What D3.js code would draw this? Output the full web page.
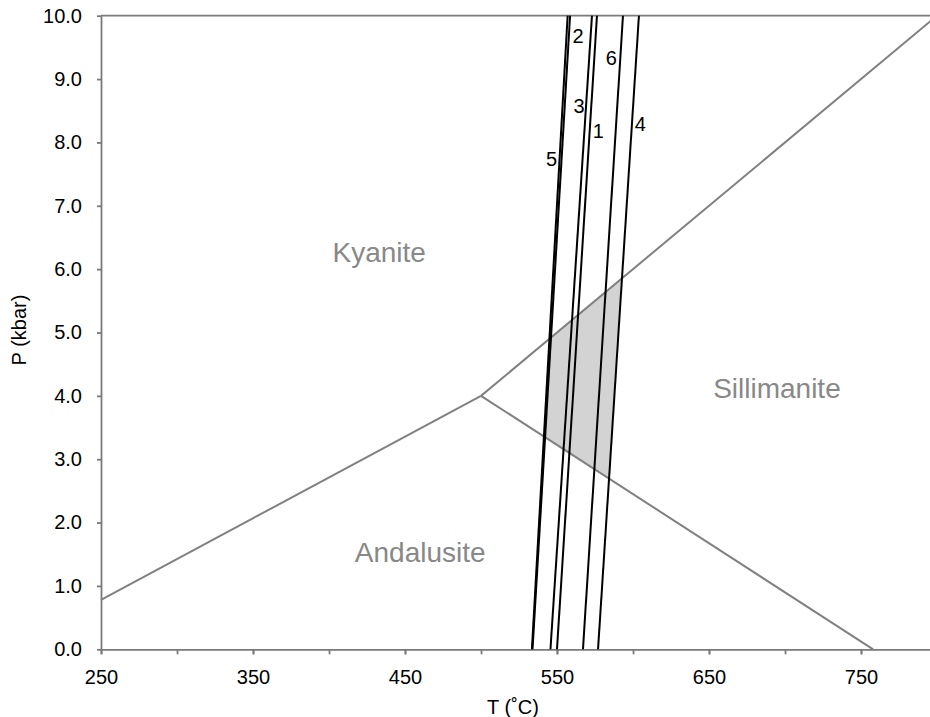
<!DOCTYPE html>
<html>
<head>
<meta charset="utf-8">
<script src="https://cdn.jsdelivr.net/npm/d3@7"></script>
<style>
  body { margin: 0; background: #fff; }
  svg { display: block; font-family: "Liberation Sans", Arial, Helvetica, sans-serif; }
</style>
</head>
<body>
<svg width="930" height="717"></svg>
<script>
// phase boundaries (T in °C, P in kbar)
const kyAnd = [[250, 0.78], [500, 4.0]];
const kySil = [[500, 4.0], [800, 10.0]];
const andSil = [[500, 4.0], [758, 0.0]];

// isograd lines: name, T at 0 kbar, T at 10 kbar
const isoNames = ["5", "2", "3", "1", "6", "4"];
const isoT0 = [533.5, 533.9, 545.7, 550.0, 567.1, 577.0];
const isoT10 = [557.0, 558.6, 573.0, 576.3, 593.4, 603.9];

// label positions for the numbers
const isoLabelT = [546.5, 563.8, 564.5, 577.2, 585.7, 604.8];
const isoLabelP = [7.62, 9.57, 8.46, 8.07, 9.22, 8.18];

// field labels
const fieldNames = ["Kyanite", "Sillimanite", "Andalusite"];
const fieldT = [433, 694.7, 460];
const fieldP = [6.12, 3.97, 1.38];

const xTicks = [250, 300, 350, 400, 450, 500, 550, 600, 650, 700, 750, 800];
const xTickLabels = [250, 350, 450, 550, 650, 750];
const yTicks = [0, 1, 2, 3, 4, 5, 6, 7, 8, 9, 10];

const svg = d3.select("svg");
const area = { left: 101, right: 937, top: 15.7, bottom: 649.3 };

const scX = d3.scaleLinear().domain([250, 800]).range([area.left, area.right]);
const scY = d3.scaleLinear().domain([0, 10]).range([area.bottom, area.top]);

const line = d3.line().x(d => scX(d[0])).y(d => scY(d[1]));

// intersection of two segments treated as lines
function intersect(a, b) {
  const [x1, y1] = a[0], [x2, y2] = a[1], [x3, y3] = b[0], [x4, y4] = b[1];
  const den = (x1 - x2) * (y3 - y4) - (y1 - y2) * (x3 - x4);
  const t = ((x1 - x3) * (y3 - y4) - (y1 - y3) * (x3 - x4)) / den;
  return [x1 + t * (x2 - x1), y1 + t * (y2 - y1)];
}

const iso = isoNames.map((n, i) => ({ name: n, pts: [[isoT0[i], 0], [isoT10[i], 10]] }));

// shaded field between isograd 5 and 4 inside sillimanite
const left = iso[0].pts, right = iso[5].pts;
const poly = [intersect(left, kySil), intersect(right, kySil), intersect(right, andSil), intersect(left, andSil)];
svg.append("path")
  .attr("d", line(poly) + "Z")
  .style("fill", "#d3d3d3")
  .style("stroke", "none");

// axes
const axisColor = "#7a7a7a";
const gx = svg.append("g")
  .attr("transform", `translate(0, ${area.bottom})`)
  .call(d3.axisBottom(scX).tickValues(xTicks).tickSize(5).tickSizeOuter(0).tickFormat(""));
const gxl = svg.append("g")
  .attr("transform", `translate(0, ${area.bottom})`)
  .call(d3.axisBottom(scX).tickValues(xTickLabels).tickSize(5).tickPadding(16).tickSizeOuter(0).tickFormat(d3.format("d")));
gxl.select(".domain").remove();

const gy = svg.append("g")
  .attr("transform", `translate(${area.left}, 0)`)
  .call(d3.axisLeft(scY).tickValues(yTicks).tickSize(4).tickPadding(15).tickSizeOuter(0).tickFormat(d3.format(".1f")));

[gx, gxl, gy].forEach(g => {
  g.selectAll("path, line").style("stroke", axisColor).style("stroke-width", 1.8);
  g.selectAll("text").style("font-size", "20px").style("fill", "#000").style("font-family", "inherit");
});

// top border
svg.append("line")
  .attr("x1", area.left).attr("x2", area.right)
  .attr("y1", area.top).attr("y2", area.top)
  .style("stroke", axisColor).style("stroke-width", 1.8);

// phase boundaries
[kyAnd, kySil, andSil].forEach(b => {
  svg.append("path")
    .attr("d", line(b))
    .style("fill", "none")
    .style("stroke", "#808080")
    .style("stroke-width", 2);
});

// isograds
svg.selectAll(".iso")
  .data(iso)
  .enter()
  .append("path")
  .attr("class", "iso")
  .attr("d", d => line(d.pts))
  .style("fill", "none")
  .style("stroke", "#000")
  .style("stroke-width", 2);

svg.selectAll(".isoLabel")
  .data(isoNames)
  .enter()
  .append("text")
  .attr("class", "isoLabel")
  .attr("x", (d, i) => scX(isoLabelT[i]))
  .attr("y", (d, i) => scY(isoLabelP[i]))
  .attr("text-anchor", "middle")
  .style("font-size", "20px")
  .text(d => d);

svg.selectAll(".field")
  .data(fieldNames)
  .enter()
  .append("text")
  .attr("class", "field")
  .attr("x", (d, i) => scX(fieldT[i]))
  .attr("y", (d, i) => scY(fieldP[i]))
  .attr("text-anchor", "middle")
  .style("font-size", "28px")
  .style("fill", "#888")
  .text(d => d);

// axis titles
svg.append("text")
  .attr("x", 513).attr("y", 714)
  .attr("text-anchor", "middle")
  .style("font-size", "20px")
  .text("T (˚C)");

svg.append("text")
  .attr("transform", "translate(26, 330) rotate(-90)")
  .attr("text-anchor", "middle")
  .style("font-size", "20px")
  .text("P (kbar)");
</script>
</body>
</html>
